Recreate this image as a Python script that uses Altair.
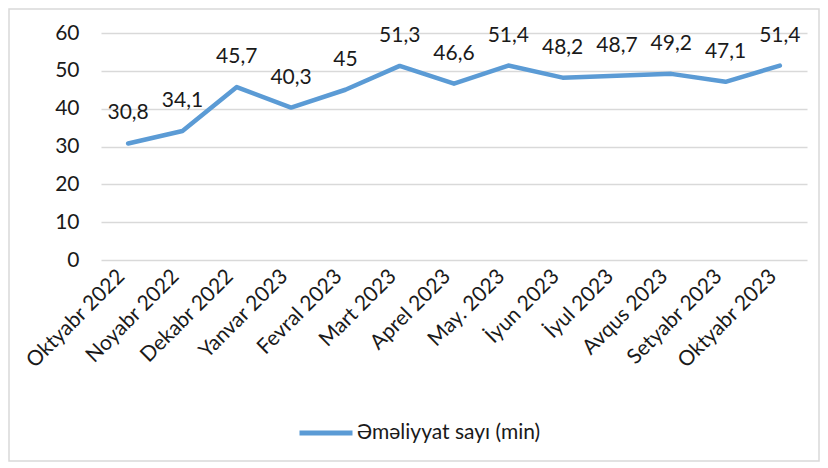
import altair as alt
import pandas as pd

months = ["Oktyabr 2022", "Noyabr 2022", "Dekabr 2022", "Yanvar 2023", "Fevral 2023",
          "Mart 2023", "Aprel 2023", "May. 2023", "İyun 2023", "İyul 2023",
          "Avqus 2023", "Setyabr 2023", "Oktyabr 2023"]
values = [30.8, 34.1, 45.7, 40.3, 45, 51.3, 46.6, 51.4, 48.2, 48.7, 49.2, 47.1, 51.4]
series_name = "Əməliyyat sayı (min)"


def fmt(v):
    return (f"{v:g}").replace(".", ",")


df = pd.DataFrame({
    "month": months,
    "value": values,
    "label": [fmt(v) for v in values],
    "series": [series_name] * len(months),
})

W, H = 706, 227
FONT = "Lato"
FS = 21
TXT = "#1a1a1a"

x = alt.X("month:N", sort=months, title=None,
          scale=alt.Scale(paddingInner=0, paddingOuter=0.5),
          axis=alt.Axis(labelAngle=-45, labelFontSize=FS, labelColor=TXT,
                        labelFont=FONT, ticks=False, domain=False, labelPadding=20,
                        labelBaseline="bottom", labelOverlap=False, labelLimit=0))
y = alt.Y("value:Q", title=None,
          scale=alt.Scale(domain=[0, 60]),
          axis=alt.Axis(values=[0, 10, 20, 30, 40, 50, 60], labelFontSize=FS,
                        labelColor=TXT, labelFont=FONT, ticks=False, domain=False,
                        labelPadding=22, gridColor="#d9d9d9", gridWidth=1.5))

frame = alt.Chart(pd.DataFrame({"a": [0]})).mark_rect(
    fill=None, stroke="#d9d9d9", strokeWidth=1.5
).encode(x=alt.value(-92), x2=alt.value(W + 12), y=alt.value(-24), y2=alt.value(H + 201))

line = alt.Chart(df).mark_line(strokeWidth=4.5, strokeCap="round", strokeJoin="round").encode(
    x=x, y=y,
    color=alt.Color("series:N", scale=alt.Scale(range=["#5B9BD5"]),
                    legend=alt.Legend(title=None, orient="none", legendX=196, legendY=371,
                                      symbolType="stroke", symbolSize=2809,
                                      symbolStrokeWidth=5, labelFontSize=FS,
                                      labelFont=FONT, labelColor=TXT, labelOffset=2,
                                      labelLimit=0)),
)

text = alt.Chart(df).mark_text(fontSize=FS, font=FONT, color=TXT, baseline="middle", dy=-30).encode(
    x=x, y=y, text="label:N"
)

chart = alt.layer(frame, line, text).properties(
    width=W, height=H,
    autosize=alt.AutoSizeParams(type="none"),
    padding={"left": 93, "top": 25, "right": 13, "bottom": 202},
).configure_view(stroke=None)

chart.save("out.html", embed_options={"renderer": "svg", "actions": False})
